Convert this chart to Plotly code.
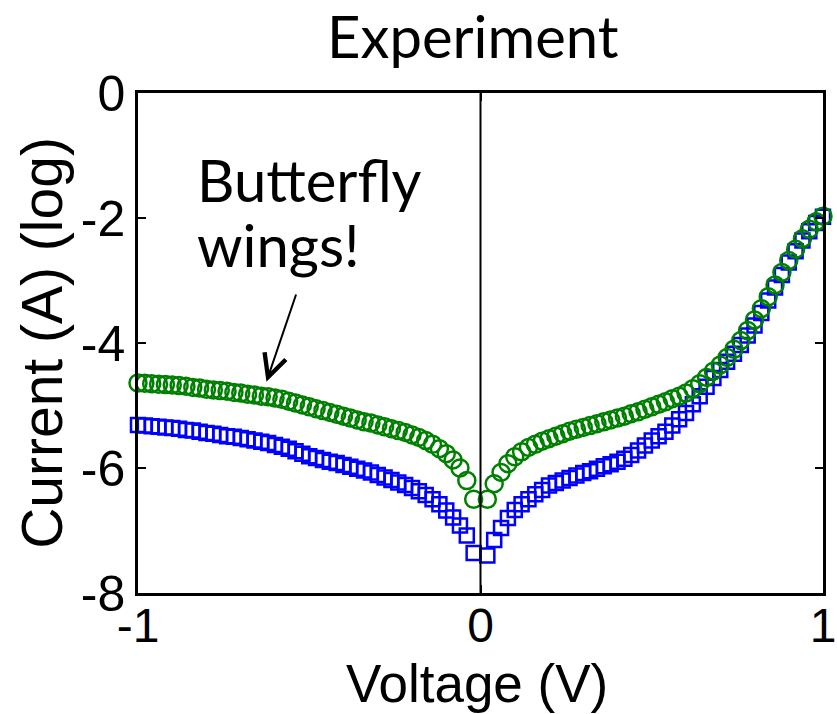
import plotly.graph_objects as go

# Voltage (V): -1.00 ... -0.02 and 0.02 ... 1.00 in 0.02 V steps
voltage_neg = [round(-1.00 + 0.02 * i, 2) for i in range(50)]
voltage_pos = [round(0.02 + 0.02 * i, 2) for i in range(50)]
voltage = voltage_neg + voltage_pos

# log10 current, green circles (upper sweep)
green_neg = [-4.64, -4.645, -4.65, -4.66, -4.665, -4.67, -4.68, -4.69, -4.71, -4.72,
             -4.74, -4.75, -4.76, -4.77, -4.79, -4.80, -4.82, -4.83, -4.85, -4.86,
             -4.88, -4.90, -4.93, -4.96, -4.99, -5.02, -5.05, -5.08, -5.11, -5.14,
             -5.17, -5.20, -5.23, -5.26, -5.28, -5.31, -5.34, -5.37, -5.40, -5.43,
             -5.47, -5.51, -5.56, -5.62, -5.69, -5.77, -5.87, -6.00, -6.20, -6.50]
green_pos = [-6.50, -6.25, -6.07, -5.93, -5.82, -5.74, -5.67, -5.62, -5.57, -5.53,
             -5.49, -5.45, -5.41, -5.38, -5.35, -5.32, -5.29, -5.26, -5.23, -5.20,
             -5.17, -5.13, -5.10, -5.06, -5.02, -4.98, -4.94, -4.89, -4.85, -4.80,
             -4.73, -4.65, -4.55, -4.45, -4.35, -4.23, -4.10, -3.96, -3.80, -3.63,
             -3.45, -3.26, -3.07, -2.87, -2.68, -2.50, -2.33, -2.18, -2.06, -1.97]

# log10 current, blue squares (lower sweep)
blue_neg = [-5.31, -5.32, -5.33, -5.34, -5.35, -5.36, -5.37, -5.39, -5.40, -5.42,
            -5.44, -5.45, -5.47, -5.49, -5.50, -5.52, -5.54, -5.56, -5.58, -5.60,
            -5.63, -5.66, -5.69, -5.73, -5.77, -5.81, -5.84, -5.87, -5.90, -5.92,
            -5.95, -5.98, -6.01, -6.04, -6.07, -6.11, -6.15, -6.19, -6.23, -6.27,
            -6.32, -6.37, -6.43, -6.50, -6.58, -6.68, -6.79, -6.92, -7.08, -7.36]
blue_pos = [-7.40, -7.15, -6.96, -6.80, -6.67, -6.58, -6.50, -6.42, -6.35, -6.28,
            -6.24, -6.20, -6.16, -6.12, -6.08, -6.05, -6.01, -5.97, -5.94, -5.90,
            -5.85, -5.79, -5.72, -5.64, -5.56, -5.49, -5.42, -5.32, -5.22, -5.12,
            -4.98, -4.85, -4.70, -4.56, -4.43, -4.30, -4.17, -4.03, -3.88, -3.72,
            -3.52, -3.32, -3.11, -2.91, -2.71, -2.53, -2.36, -2.21, -2.08, -1.98]

x_ticks = [-1, 0, 1]
x_ticktext = ["-1", "0", "1"]
y_ticks = [-8, -6, -4, -2, 0]
y_ticktext = ["-8", "-6", "-4", "-2", "0"]

AX_FONT = "Liberation Sans, Arial, sans-serif"
HUM_FONT = "Lato, Open Sans, sans-serif"

fig = go.Figure()
fig.add_trace(go.Scatter(
    x=voltage, y=blue_neg + blue_pos, mode="markers",
    marker=dict(symbol="square-open", size=14, color="#0000ff",
                line=dict(width=2.5, color="#0000ff")),
    cliponaxis=False, showlegend=False))
fig.add_trace(go.Scatter(
    x=voltage, y=green_neg + green_pos, mode="markers",
    marker=dict(symbol="circle-open", size=17, color="#008000",
                line=dict(width=2.5, color="#008000")),
    cliponaxis=False, showlegend=False))

fig.add_shape(type="line", x0=0, x1=0, y0=0, y1=1, xref="x", yref="paper",
              line=dict(color="black", width=2))

fig.add_annotation(text="Experiment", xref="paper", yref="paper",
                   x=0.489, y=1.114, xanchor="center", yanchor="middle",
                   showarrow=False, font=dict(family=HUM_FONT, size=58, color="black"))
fig.add_annotation(text="Butterfly", xref="x", yref="y",
                   x=-0.835, y=-0.80, xanchor="left", yanchor="top", align="left",
                   showarrow=False, font=dict(family=HUM_FONT, size=58, color="black"))
fig.add_annotation(text="wings!", xref="x", yref="y",
                   x=-0.835, y=-1.84, xanchor="left", yanchor="top", align="left",
                   showarrow=False, font=dict(family=HUM_FONT, size=58, color="black"))
fig.add_annotation(text="", xref="x", yref="y", axref="x", ayref="y",
                   x=-0.625, y=-4.62, ax=-0.537, ay=-3.2,
                   showarrow=True, arrowhead=5, arrowsize=2.2, arrowwidth=2,
                   arrowcolor="black", standoff=0)
# x-axis title placed as an annotation so it sits flush with the page bottom
fig.add_annotation(text="Voltage (V)", xref="paper", yref="paper",
                   x=0.495, y=-0.242, xanchor="center", yanchor="bottom",
                   showarrow=False, borderpad=0,
                   font=dict(family=AX_FONT, size=53, color="black"))

axis_common = dict(showline=True, linecolor="black", linewidth=2.5, mirror="ticks",
                   ticks="inside", ticklen=8, tickwidth=2, tickcolor="black",
                   showgrid=False, zeroline=False, ticklabeloverflow="allow",
                   automargin=False,
                   tickfont=dict(family=AX_FONT, size=50, color="black"))

fig.update_xaxes(range=[-1, 1], tickvals=x_ticks, ticktext=x_ticktext,
                 ticklabelstandoff=-11, tickfont=dict(family=AX_FONT, size=48, color="black"),
                 **{k: v for k, v in axis_common.items() if k != "tickfont"})
fig.update_yaxes(range=[-8, 0], tickvals=y_ticks, ticktext=y_ticktext,
                 title=dict(text="Current (A) (log)", font=dict(family=AX_FONT, size=57, color="black"),
                            standoff=0),
                 **axis_common)

fig.update_layout(width=837, height=714, margin=dict(l=138, r=14, t=93, b=121),
                  plot_bgcolor="white", paper_bgcolor="white")

fig.write_html("out.html")
